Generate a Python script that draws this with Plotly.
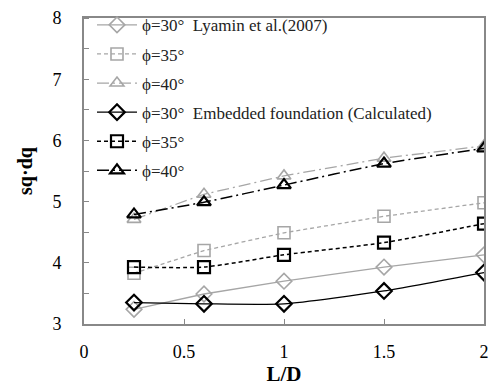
import plotly.graph_objects as go

x_ld = [0.25, 0.6, 1.0, 1.5, 2.0]

lyamin_30 = [3.24, 3.49, 3.70, 3.93, 4.13]
lyamin_35 = [3.83, 4.20, 4.49, 4.76, 4.98]
lyamin_40 = [4.71, 5.12, 5.42, 5.71, 5.91]
calc_30 = [3.35, 3.33, 3.33, 3.54, 3.84]
calc_35 = [3.93, 3.93, 4.13, 4.33, 4.64]
calc_40 = [4.79, 4.99, 5.27, 5.62, 5.87]

names = [
    "ϕ=30°  Lyamin et al.(2007)",
    "ϕ=35°",
    "ϕ=40°",
    "ϕ=30°  Embedded foundation (Calculated)",
    "ϕ=35°",
    "ϕ=40°",
]

series = [lyamin_30, lyamin_35, lyamin_40, calc_30, calc_35, calc_40]
gray = "#a6a6a6"
styles = [
    dict(color=gray, dash="solid", symbol="diamond-open", shape="linear", lw=1.3, mw=1.6),
    dict(color=gray, dash="4px,3px", symbol="square-open", shape="linear", lw=1.3, mw=1.6),
    dict(color=gray, dash="12px,4px,2px,4px", symbol="triangle-up-open", shape="linear", lw=1.3, mw=1.6),
    dict(color="black", dash="solid", symbol="diamond-open", shape="spline", lw=1.3, mw=2.2),
    dict(color="black", dash="4px,3px", symbol="square-open", shape="spline", lw=1.5, mw=2.2),
    dict(color="black", dash="12px,4px,2px,4px", symbol="triangle-up-open", shape="spline", lw=1.5, mw=2.2),
]

fig = go.Figure()
for i, (ys, nm, st) in enumerate(zip(series, names, styles)):
    fig.add_trace(go.Scatter(
        x=x_ld, y=ys, name=nm, mode="lines+markers",
        legendgroup=f"g{i}",
        line=dict(color=st["color"], dash=st["dash"], width=st["lw"], shape=st["shape"], smoothing=0.6),
        marker=dict(symbol=st["symbol"], size=12, color=st["color"], line=dict(width=st["mw"], color=st["color"])),
    ))

font_family = "Liberation Serif, Times New Roman, serif"
fig.update_layout(
    width=490, height=386,
    margin=dict(l=84, r=1, t=18, b=62),
    paper_bgcolor="white", plot_bgcolor="white",
    font=dict(family=font_family, size=18, color="black"),
    showlegend=True,
    legend=dict(
        x=0.02, y=1.035, xanchor="left", yanchor="top",
        bgcolor="rgba(255,255,255,0)", borderwidth=0,
        font=dict(family=font_family, size=17, color="#222"),
        tracegroupgap=4, itemwidth=40,
    ),
    xaxis=dict(
        range=[0, 2], tickvals=[0, 0.5, 1, 1.5, 2], ticktext=["0", "0.5", "1", "1.5", "2"],
        ticks="inside", ticklen=5, tickcolor="#888",
        showline=True, linecolor="#888", linewidth=2, mirror=True,
        showgrid=False, zeroline=False,
        title=dict(text="<b>L/D</b>", font=dict(size=21), standoff=2),
        tickfont=dict(size=18),
        ticklabelstandoff=10,
        ticklabeloverflow="allow",
    ),
    yaxis=dict(
        range=[3, 8], tickvals=[3, 4, 5, 6, 7, 8],
        ticks="", showline=True, linecolor="#888", linewidth=2, mirror=True,
        showgrid=False, zeroline=False,
        minor=dict(dtick=0.5, ticks="inside", ticklen=5, tickcolor="#888"),
        title=dict(text="<b>sq·dq</b>", font=dict(size=20), standoff=14),
        tickfont=dict(size=18),
        ticklabelstandoff=17,
    ),
)

fig.write_html("out.html")
